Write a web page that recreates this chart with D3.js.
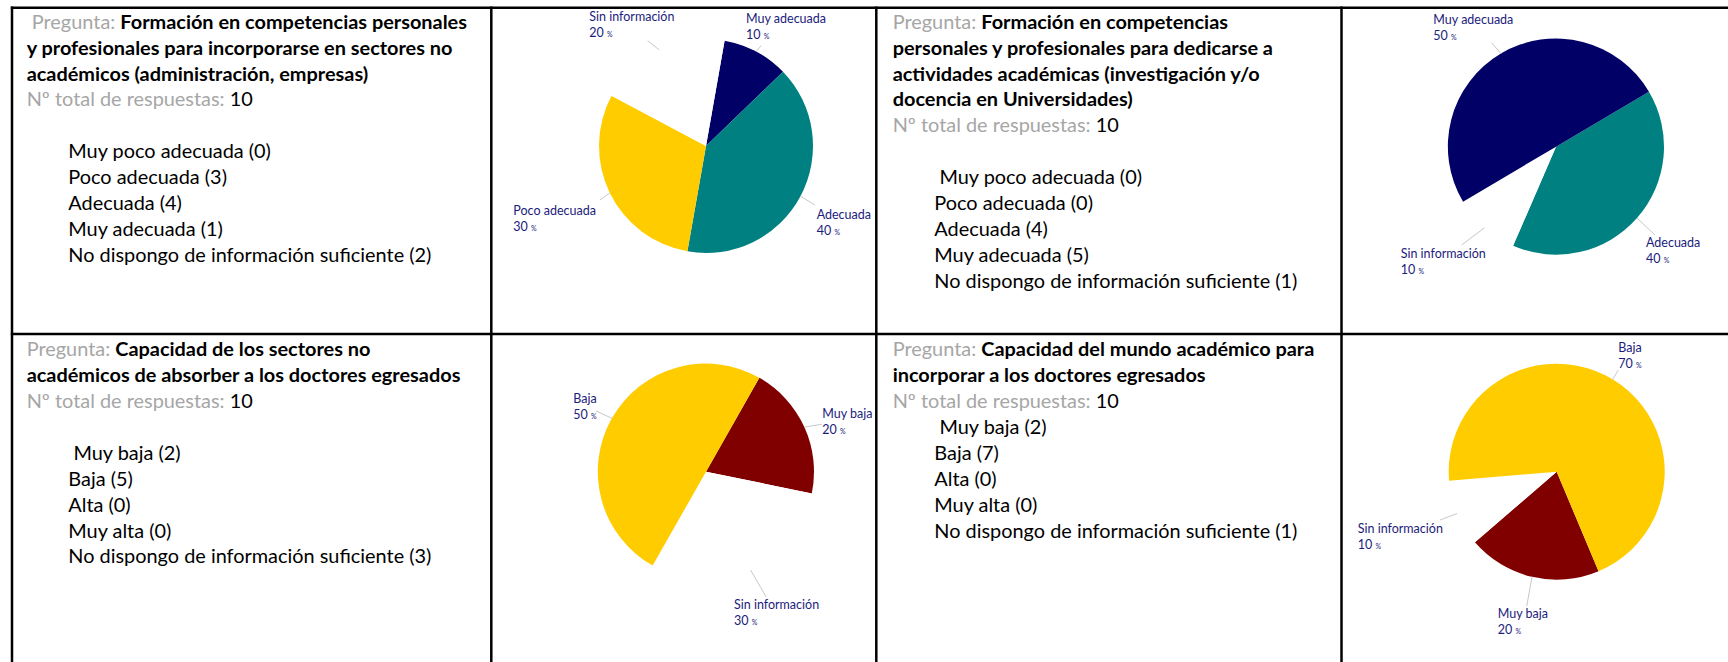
<!DOCTYPE html>
<html>
<head>
<meta charset="utf-8">
<script src="https://cdn.jsdelivr.net/npm/d3@7"></script>
<style>
  body { margin: 0; background: #fff; }
  text { font-family: Lato, "Open Sans", sans-serif; white-space: pre; }
</style>
</head>
<body>
<div class="chart"></div>
<script>
var svgWidth = 1728;
var svgHeight = 662;

var totalAnswers = 10;

// question 1
var q1Title = ["Formación en competencias personales",
  "y profesionales para incorporarse en sectores no",
  "académicos (administración, empresas)"];
var q1Options = ["Muy poco adecuada", "Poco adecuada", "Adecuada", "Muy adecuada",
  "No dispongo de información suficiente"];
var q1Counts = [0, 3, 4, 1, 2];
var q1PieOrder = [3, 2, 1, 4];

// question 2
var q2Title = ["Formación en competencias",
  "personales y profesionales para dedicarse a",
  "actividades académicas (investigación y/o",
  "docencia en Universidades)"];
var q2Options = ["Muy poco adecuada", "Poco adecuada", "Adecuada", "Muy adecuada",
  "No dispongo de información suficiente"];
var q2Counts = [0, 0, 4, 5, 1];
var q2PieOrder = [2, 4, 3];

// question 3
var q3Title = ["Capacidad de los sectores no",
  "académicos de absorber a los doctores egresados"];
var q3Options = ["Muy baja", "Baja", "Alta", "Muy alta",
  "No dispongo de información suficiente"];
var q3Counts = [2, 5, 0, 0, 3];
var q3PieOrder = [0, 4, 1];

// question 4
var q4Title = ["Capacidad del mundo académico para",
  "incorporar a los doctores egresados"];
var q4Options = ["Muy baja", "Baja", "Alta", "Muy alta",
  "No dispongo de información suficiente"];
var q4Counts = [2, 7, 0, 0, 1];
var q4PieOrder = [0, 4, 1];

var sliceNames = ["Muy adecuada", "Adecuada", "Poco adecuada", "Muy baja", "Baja", "Sin información"];
var sliceColors = ["#000066", "#008080", "#ffcc00", "#800000", "#ffcc00", "#ffffff"];

var color = d3.scaleOrdinal().domain(sliceNames).range(sliceColors);

// layout of the four panels (text cell + pie cell)
var panels = [
  { title: q1Title, options: q1Options, counts: q1Counts, order: q1PieOrder,
    tx: 26.7, ty: 28.7, lead: " ", firstLead: "", blank: 1,
    cx: 706, cy: 146, r: 107, start: 10,
    labels: [[-10.2, -32.5, 5, -6], [16.2, 18.8, 14.5, 8.8], [-96.5, 17.8, -9.8, 7.1], [-69.8, -33.1, -11.4, -9.1]] },
  { title: q2Title, options: q2Options, counts: q2Counts, order: q2PieOrder,
    tx: 892.7, ty: 28.7, lead: "", firstLead: " ", blank: 1,
    cx: 1556, cy: 146.7, r: 108, start: 59.4,
    labels: [[9, 24.6, 18, 16.9], [-83.9, 25.6, -22.9, 17.3], [-67.7, -33.7, -9.3, -11]] },
  { title: q3Title, options: q3Options, counts: q3Counts, order: q3PieOrder,
    tx: 26.7, ty: 356.2, lead: "", firstLead: " ", blank: 1,
    cx: 706, cy: 471.7, r: 108, start: 29.6,
    labels: [[17.9, -13.8, 17.3, -2.8], [-16.6, 34.2, 15.4, 26.6], [-38.8, -19.4, -16.1, -7.4]] },
  { title: q4Title, options: q4Options, counts: q4Counts, order: q4PieOrder,
    tx: 892.7, ty: 356.2, lead: "", firstLead: " ", blank: 0,
    cx: 1556.7, cy: 471.7, r: 108, start: 157.2,
    labels: [[-34.3, 36.9, -5.3, 29.2], [-99.4, 15.5, -17.1, 6.5], [5.7, -31.6, 5.7, -9.3]] }
];

var lineH = 25.9;
var itemIndent = 41.6;

var svg = d3.select(".chart")
  .append("svg")
  .attr("width", svgWidth)
  .attr("height", svgHeight);

svg.append("rect").attr("width", svgWidth).attr("height", svgHeight).attr("fill", "#fff");

// table grid
var vLines = [12, 491.3, 876.3, 1341.5];
var hLines = [7.7, 334];
svg.selectAll(".vline").data(vLines).enter().append("line")
  .attr("x1", function(d) { return d; }).attr("x2", function(d) { return d; })
  .attr("y1", 6.5).attr("y2", svgHeight)
  .attr("stroke", "#000").attr("stroke-width", 2.5);
svg.selectAll(".hline").data(hLines).enter().append("line")
  .attr("x1", 10.8).attr("x2", svgWidth)
  .attr("y1", function(d) { return d; }).attr("y2", function(d) { return d; })
  .attr("stroke", "#000").attr("stroke-width", 2.5);

function shortName(opt) {
  return opt.indexOf("No dispongo") === 0 ? "Sin información" : opt;
}

panels.forEach(function(p) {
  // text cell
  var g = svg.append("g").attr("font-size", 19.9);
  var y = p.ty;
  p.title.forEach(function(line, i) {
    var t = g.append("text").attr("x", p.tx).attr("y", y);
    if (i === 0) {
      t.append("tspan").attr("fill", "#a6a6a6").text(p.lead + "Pregunta: ");
    }
    t.append("tspan").attr("font-weight", "bold").attr("fill", "#000").text(line);
    y += lineH;
  });
  var tot = g.append("text").attr("x", p.tx).attr("y", y);
  tot.append("tspan").attr("fill", "#a6a6a6").text("Nº total de respuestas: ");
  tot.append("tspan").attr("fill", "#000").text(d3.sum(p.counts));
  y += lineH * (1 + p.blank);
  p.options.forEach(function(opt, i) {
    g.append("text")
      .attr("x", p.tx + itemIndent)
      .attr("y", y + i * lineH)
      .attr("fill", "#000")
      .text((i === 0 ? p.firstLead : "") + opt + " (" + p.counts[i] + ")");
  });

  // pie cell
  var slices = p.order.map(function(idx) {
    return { name: shortName(p.options[idx]), value: p.counts[idx] };
  });
  var a0 = p.start * Math.PI / 180;
  var pie = d3.pie().sort(null).value(function(d) { return d.value; })
    .startAngle(a0).endAngle(a0 + 2 * Math.PI);
  var arc = d3.arc().innerRadius(0).outerRadius(p.r);
  var edge = d3.arc().innerRadius(p.r).outerRadius(p.r);

  var pg = svg.append("g").attr("transform", "translate(" + p.cx + "," + p.cy + ")");
  var arcs = pie(slices);

  pg.selectAll("path").data(arcs).enter().append("path")
    .attr("d", arc)
    .attr("fill", function(d) { return color(d.data.name); });

  arcs.forEach(function(d, i) {
    var s = edge.centroid(d);
    var o = p.labels[i];
    pg.append("line")
      .attr("x1", s[0]).attr("y1", s[1])
      .attr("x2", s[0] + o[2]).attr("y2", s[1] + o[3])
      .attr("stroke", "#c8c8c8").attr("stroke-width", 1);
    var lx = s[0] + o[0];
    var ly = s[1] + o[1] + 4.3;
    pg.append("text").attr("x", lx).attr("y", ly)
      .attr("font-size", 12.5).attr("fill", "#1c1c7c")
      .text(d.data.name);
    var pct = pg.append("text").attr("x", lx).attr("y", ly + 16)
      .attr("font-size", 12.5).attr("fill", "#1c1c7c");
    pct.append("tspan").text(Math.round(d.data.value / totalAnswers * 100) + " ");
    pct.append("tspan").attr("font-size", 7).text("%");
  });
});
</script>
</body>
</html>
